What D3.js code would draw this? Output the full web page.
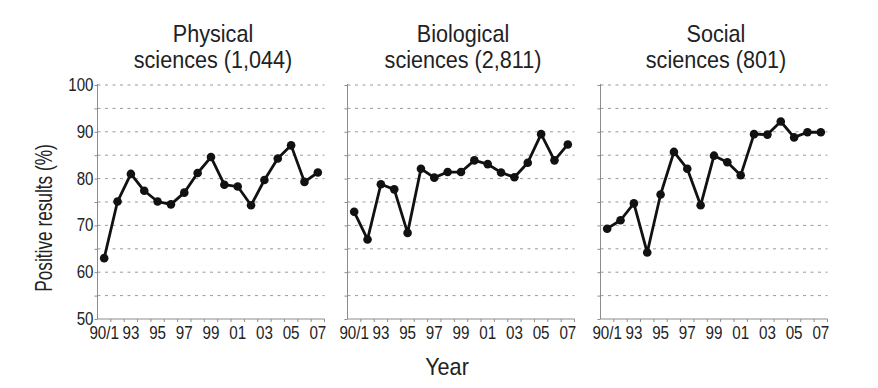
<!DOCTYPE html>
<html><head><meta charset="utf-8">
<script src="https://cdn.jsdelivr.net/npm/d3@7"></script>
<style>
html,body{margin:0;padding:0;background:#fff;}
svg{display:block;}
text{font-family:"Liberation Sans Narrow","Arial Narrow","Liberation Sans",Arial,sans-serif;fill:#222;}
</style></head>
<body><svg id="chart" width="878" height="388"></svg>
<script>
const years = ["90/1","92","93","94","95","96","97","98","99","00","01","02","03","04","05","06","07"];
const yearLabels = ["90/1","93","95","97","99","01","03","05","07"];
const panelTitles = [["Physical","sciences (1,044)"],["Biological","sciences (2,811)"],["Social","sciences (801)"]];
const physical = [63.0,75.1,81.0,77.4,75.1,74.5,77.0,81.2,84.6,78.7,78.3,74.3,79.7,84.3,87.1,79.3,81.3];
const biological = [72.9,67.0,78.8,77.7,68.4,82.1,80.2,81.4,81.4,83.9,83.1,81.3,80.3,83.4,89.5,83.9,87.3];
const social = [69.3,71.1,74.7,64.2,76.6,85.7,82.1,74.3,84.9,83.5,80.7,89.5,89.4,92.2,88.8,89.9,89.9];
const yTicks = [50,60,70,80,90,100];
const gridVals = [55,60,65,70,75,80,85,90,95,100];
const series = [physical, biological, social];

const svg = d3.select("#chart");
const plotTop = 85, plotBottom = 319;
const lefts = [97.5, 347.5, 600.5], pw = 227;
const y = d3.scaleLinear().domain([50,100]).range([plotBottom, plotTop]);
const axisCol = "#8c8c8c";

function narrowText(parent, x, yy, str, size, sx, anchor, rot) {
  return parent.append("text")
    .attr("transform", `translate(${x},${yy})${rot ? " rotate(" + rot + ")" : ""} scale(${sx},1)`)
    .attr("text-anchor", anchor || "middle").attr("font-size", size).text(str);
}

series.forEach((vals, i) => {
  const g = svg.append("g");
  const x0 = lefts[i];
  const x = d3.scaleBand().domain(years).range([x0, x0 + pw]).paddingInner(0).paddingOuter(0);
  g.selectAll("line.grid").data(gridVals).join("line")
    .attr("x1", x0).attr("x2", x0 + pw)
    .attr("y1", d => y(d)).attr("y2", d => y(d))
    .attr("stroke", "#9a9a9a").attr("stroke-width", 1).attr("stroke-dasharray", "3,4.5");
  const ya = g.append("g").attr("transform", `translate(${x0},0)`)
    .call(d3.axisLeft(y).tickValues(d3.range(50,101,5)).tickSize(3).tickFormat(""));
  ya.select(".domain").attr("stroke", axisCol).attr("d", `M-0,${plotBottom}V${plotTop - 1}`);
  ya.selectAll(".tick line").attr("stroke", axisCol);
  if (i === 0) {
    yTicks.forEach(v => narrowText(g, x0 - 4, y(v) + 6, v, 18, 0.84, "end"));
  }
  const boundaries = d3.range(years.length + 1).map(k => x0 + k * x.step());
  g.append("line").attr("x1", x0).attr("x2", x0 + pw).attr("y1", plotBottom).attr("y2", plotBottom).attr("stroke", axisCol);
  g.selectAll("line.xt").data(boundaries.slice(1)).join("line")
    .attr("x1", d => d).attr("x2", d => d).attr("y1", plotBottom).attr("y2", plotBottom + 3).attr("stroke", axisCol);
  yearLabels.forEach(lab => narrowText(g, x(lab) + x.bandwidth() / 2, 339, lab, 19, 0.8, "middle"));
  const line = d3.line().x((d, k) => x(years[k]) + x.bandwidth() / 2).y(d => y(d));
  g.append("path").datum(vals).attr("d", line).attr("fill", "none")
    .attr("stroke", "#111").attr("stroke-width", 2.8).attr("stroke-linejoin", "round");
  g.selectAll("circle").data(vals).join("circle")
    .attr("cx", (d, k) => x(years[k]) + x.bandwidth() / 2).attr("cy", d => y(d))
    .attr("r", 4.3).attr("fill", "#111");
  const cx = x0 + pw / 2 + 2;
  narrowText(g, cx, 42, panelTitles[i][0], 24, 0.9, "middle");
  narrowText(g, cx, 68, panelTitles[i][1], 24, 0.9, "middle");
});

narrowText(svg, 52, 218, "Positive results (%)", 23, 0.75, "middle", -90);
narrowText(svg, 447, 375, "Year", 24, 0.9, "middle");
</script></body></html>
